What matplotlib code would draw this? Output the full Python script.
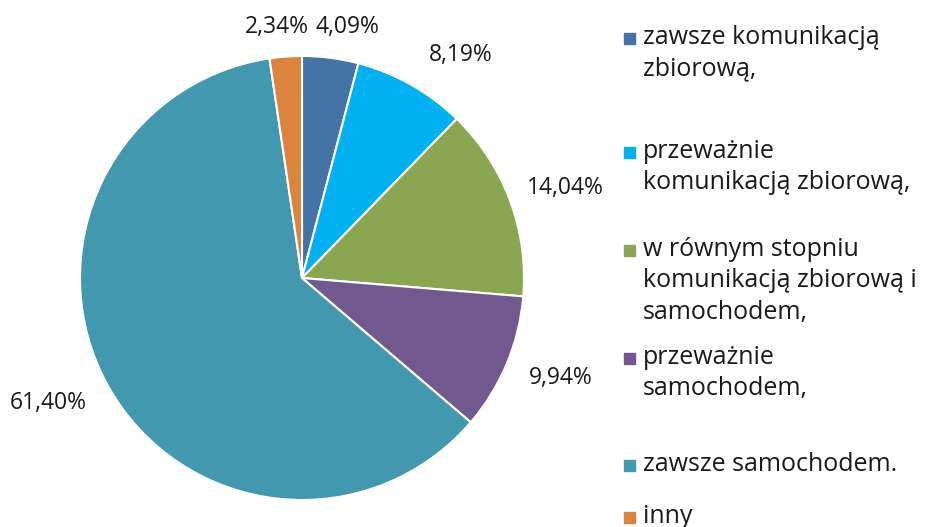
import numpy as np
import matplotlib.pyplot as plt
from matplotlib.patches import Rectangle

plt.rcParams['font.family'] = ['Open Sans', 'DejaVu Sans']

labels = ['zawsze komunikacją\nzbiorową,',
          'przeważnie\nkomunikacją zbiorową,',
          'w równym stopniu\nkomunikacją zbiorową i\nsamochodem,',
          'przeważnie\nsamochodem,',
          'zawsze samochodem.',
          'inny']
values = [4.09, 8.19, 14.04, 9.94, 61.40, 2.34]
pct_text = ['4,09%', '8,19%', '14,04%', '9,94%', '61,40%', '2,34%']
colors = ['#4572A7', '#00B0F0', '#8BA650', '#71588F', '#4198AF', '#DB843D']

# label distance from centre (in radii) plus a small nudge in px
label_dist = [1.15, 1.23, 1.25, 1.25, 1.27, 1.14]
label_nudge = [(13, 2), (24, 15), (3, 7), (3, -7), (-7, -11), (-7, 1)]
# legend entry y of first line (px), Excel-like uneven spacing
legend_y = [38, 152, 250, 358, 465, 517]

W, H = 927, 527
fig = plt.figure(figsize=(W / 100, H / 100), dpi=100)
cx, cy, R = 302, 278, 222
ax = fig.add_axes([(cx - R) / W, (H - cy - R) / H, 2 * R / W, 2 * R / H])

wedges, _ = ax.pie(values, colors=colors, startangle=90, counterclock=False,
                   radius=1, wedgeprops=dict(edgecolor='white', linewidth=1.5))
ax.set_xlim(-1, 1)
ax.set_ylim(-1, 1)
ax.set_aspect('equal')
ax.axis('off')

for w, txt, d, (nx, ny) in zip(wedges, pct_text, label_dist, label_nudge):
    ang = np.deg2rad((w.theta1 + w.theta2) / 2)
    ax.text(d * np.cos(ang) + nx / R, d * np.sin(ang) - ny / R, txt,
            ha='center', va='center', fontsize=16.5, color='#1a1a1a',
            clip_on=False)

# legend drawn by hand
for lab, col, ytop in zip(labels, colors, legend_y):
    fig.patches.append(Rectangle((624 / W, 1 - (ytop + 5.5) / H), 11 / W, 11 / H,
                                 transform=fig.transFigure, color=col))
    fig.text(643 / W, 1 - (ytop - 13) / H, lab, ha='left', va='top',
             fontsize=18, linespacing=1.33, color='#1a1a1a')

fig.savefig('out.png', dpi=100)
